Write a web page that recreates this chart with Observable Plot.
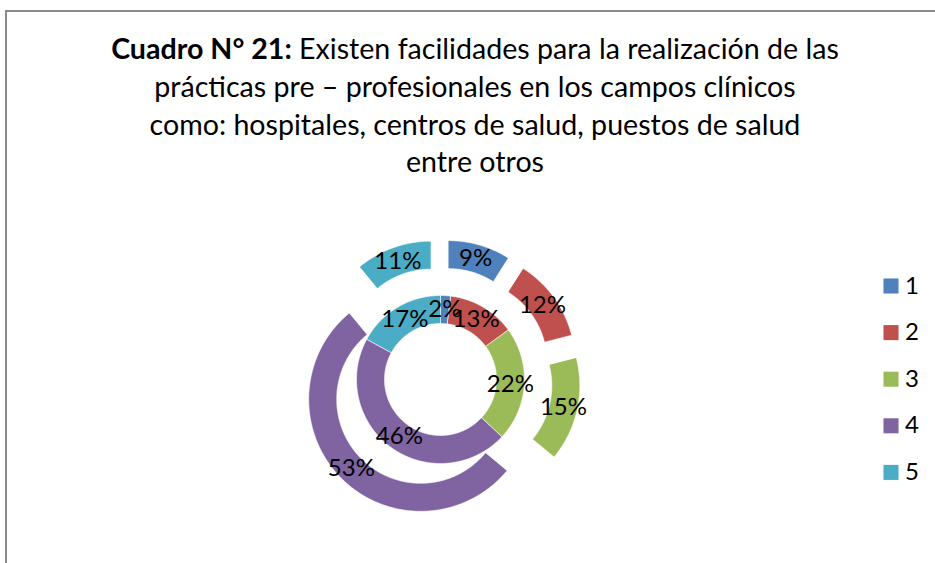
<!DOCTYPE html>
<html>
<head>
<meta charset="utf-8">
<script src="https://cdn.jsdelivr.net/npm/d3@7"></script>
<script src="https://cdn.jsdelivr.net/npm/@observablehq/plot@0.6"></script>
<style>
  html, body { margin: 0; padding: 0; background: #fff; }
  body { width: 935px; height: 563px; position: relative; overflow: hidden; font-family: Lato, "Open Sans", sans-serif; }
  #frame { position: absolute; left: 5px; top: 10px; width: 960px; height: 600px; border-left: 2px solid #8a8a8a; border-top: 2px solid #8a8a8a; box-sizing: border-box; }
  #title { position: relative; height: 190px; box-sizing: border-box; padding-top: 30px; text-align: center; font-size: 28.6px; line-height: 37.8px; color: #000; padding-left: 15px; white-space: nowrap; }
  #chart { position: relative; }
</style>
</head>
<body>
<div id="frame"></div>
<div id="title"></div>
<div id="chart"></div>
<script>
// ---- data ----
const categories = ["1", "2", "3", "4", "5"];
const innerValues = [2, 13, 22, 46, 17];
const outerValues = [9, 12, 15, 53, 11];
const colors = ["#4F81BD", "#C0504D", "#9BBB59", "#8064A2", "#4BACC6"];
const titleBold = "Cuadro N° 21:";
const titleLines = [
  " Existen facilidades para la realización de las",
  "prácticas pre – profesionales en los campos clínicos",
  "como: hospitales, centros de salud, puestos de salud",
  "entre otros"
];

// ---- title ----
const t = document.getElementById("title");
const b = document.createElement("b");
b.textContent = titleBold;
t.appendChild(b);
titleLines.forEach((line, i) => {
  if (i > 0) t.appendChild(document.createElement("br"));
  t.appendChild(document.createTextNode(line));
});

// ---- geometry (layout) ----
const W = 935, H = 373;
const cx = 440, cy = 189;
const rHole = 56, rMid = 84, rOut = 112, explode = 28;

function ring(values, rIn, rOuter, off, ringName) {
  const total = d3.sum(values);
  const pts = [], labels = [];
  let acc = 0;
  values.forEach((v, i) => {
    const a0 = acc / total * 2 * Math.PI;
    acc += v;
    const a1 = acc / total * 2 * Math.PI;
    const am = (a0 + a1) / 2;
    const ox = off * Math.sin(am), oy = -off * Math.cos(am);
    const n = Math.max(2, Math.ceil((a1 - a0) / 0.01));
    const key = ringName + i;
    for (let k = 0; k <= n; k++) {
      const a = a0 + (a1 - a0) * k / n;
      pts.push({key, cat: categories[i], x: cx + ox + rOuter * Math.sin(a), y: cy + oy - rOuter * Math.cos(a)});
    }
    for (let k = n; k >= 0; k--) {
      const a = a0 + (a1 - a0) * k / n;
      pts.push({key, cat: categories[i], x: cx + ox + rIn * Math.sin(a), y: cy + oy - rIn * Math.cos(a)});
    }
    const rm = (rIn + rOuter) / 2;
    labels.push({text: v + "%", x: cx + ox + rm * Math.sin(am), y: cy + oy - rm * Math.cos(am)});
  });
  return {pts, labels};
}

const inner = ring(innerValues, rHole, rMid, 0, "in");
const outer = ring(outerValues, rMid, rOut, explode, "out");

const legend = categories.map((c, i) => ({cat: c, x: 890.5, y: 95.5 + i * 46.6}));

const plot = Plot.plot({
  width: W,
  height: H,
  margin: 0,
  style: {background: "transparent", overflow: "visible"},
  x: {domain: [0, W], range: [0, W], axis: null},
  y: {domain: [0, H], range: [0, H], axis: null},
  color: {type: "ordinal", domain: categories, range: colors},
  marks: [
    Plot.line(inner.pts, {x: "x", y: "y", z: "key", fill: "cat", stroke: "white", strokeWidth: 0.6, curve: "linear-closed"}),
    Plot.line(outer.pts, {x: "x", y: "y", z: "key", fill: "cat", stroke: "white", strokeWidth: 0.6, curve: "linear-closed"}),
    Plot.text(inner.labels, {x: "x", y: "y", text: "text", fontSize: 24, fill: "#000", fontFamily: "Lato"}),
    Plot.text(outer.labels, {x: "x", y: "y", text: "text", fontSize: 24, fill: "#000", fontFamily: "Lato"}),
    Plot.dot(legend, {x: "x", y: "y", fill: "cat", symbol: "square", r: 8.5, stroke: null}),
    Plot.text(legend, {x: (d) => d.x + 14, y: "y", text: "cat", textAnchor: "start", fontSize: 24, fill: "#000", fontFamily: "Lato"})
  ]
});
document.getElementById("chart").appendChild(plot);
</script>
</body>
</html>
